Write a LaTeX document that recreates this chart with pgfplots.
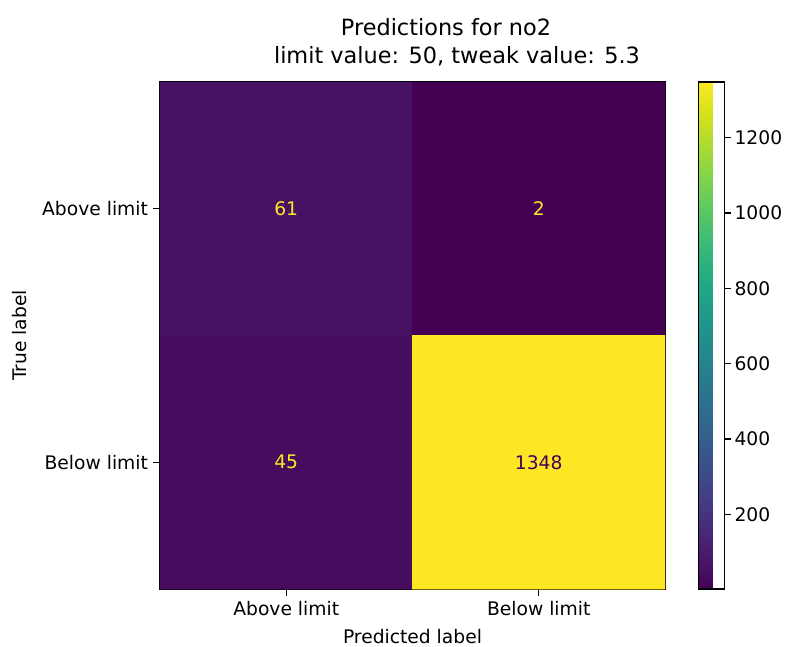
\documentclass[border=0pt]{standalone}
\usepackage{pgfplots}
\pgfplotsset{compat=1.18}
\usepackage{fontspec}
\setmainfont{DejaVu Sans}
\newcommand\tk{\fontsize{18.7}{22}\selectfont}
\newcommand\ttl{\fontsize{22.4}{26}\selectfont}
\definecolor{vyel}{HTML}{FDE725}
\definecolor{vpur}{HTML}{440154}
\pgfplotsset{
  /pgf/number format/assume math mode=true,
  /pgf/number format/1000 sep={},
  every tick label/.append style={font=\tk},
}
\begin{document}
\begin{tikzpicture}
\begin{axis}[
  scale only axis,
  width=505pt, height=507pt,
  xmin=-0.5, xmax=1.5, ymin=-0.5, ymax=1.5,
  y dir=reverse,
  xtick={0,1}, ytick={0,1},
  xticklabels={Above limit, Below limit},
  yticklabels={Above limit, Below limit},
  tick align=outside, tick pos=left,
  major tick length=6.5pt,
  every tick/.style={black, line width=1.2pt},
  axis line style={line width=1.2pt},
  xticklabel style={yshift=-2pt},
  yticklabel style={xshift=-2pt},
  xlabel={Predicted label}, ylabel={True label},
  label style={font=\tk},
  xlabel style={at={(axis description cs:0.5,0)}, anchor=base, yshift=-54pt},
  ylabel style={at={(axis description cs:0,0.5)}, anchor=base, yshift=133pt},
  colormap/viridis,
  point meta min=2, point meta max=1348,
  colorbar,
  colorbar style={
    at={(parent axis.north east)}, anchor=north west,
    xshift=25pt, width=26pt,
    ytick={200,400,...,1200},
    ytick pos=right, yticklabel pos=right,
    tick align=outside,
    major tick length=6.5pt,
    every tick/.style={black, line width=1.2pt},
    axis line style={line width=1.2pt},
    yticklabel style={xshift=0pt},
  },
]
\addplot[matrix plot*, shader=faceted, faceted color=mapped color, line width=0.6pt,
  mesh/cols=2, point meta=explicit] coordinates {
  (0,0) [61] (1,0) [2]
  (0,1) [45] (1,1) [1348]
};
\addplot[only marks, mark=none, point meta=explicit symbolic,
  nodes near coords,
  every node near coord/.append style={anchor=center, text=vyel, font=\tk}]
  coordinates {(0,0) [61] (1,0) [2] (0,1) [45]};
\addplot[only marks, mark=none, point meta=explicit symbolic,
  nodes near coords,
  every node near coord/.append style={anchor=center, text=vpur, font=\tk}]
  coordinates {(1,1) [1348]};
\end{axis}
\node[anchor=base, font=\ttl] at (286pt,553pt) {Predictions for no2};
\node[anchor=base, font=\ttl] at (297pt,525pt) {limit value: 50, tweak value: 5.3};
\pgfresetboundingbox
\path[use as bounding box] (-160pt,-57pt) rectangle (626pt,589pt);
\end{tikzpicture}
\end{document}
